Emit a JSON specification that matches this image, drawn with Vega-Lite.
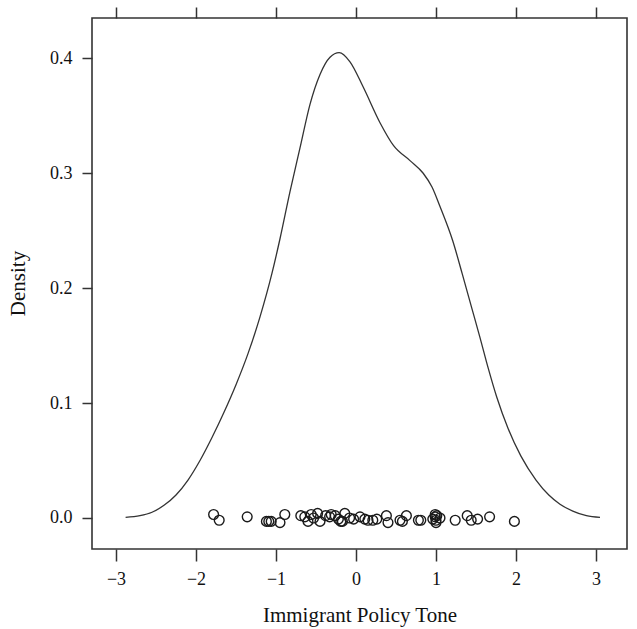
{
  "$schema": "https://vega.github.io/schema/vega-lite/v6.json",
  "width": 535,
  "height": 531,
  "autosize": "none",
  "padding": {"left": 92, "top": 18, "right": 10, "bottom": 80},
  "background": "white",
  "config": {
    "view": {"stroke": "#333333", "strokeWidth": 1.6},
    "font": "Liberation Serif",
    "axis": {"grid": false, "domain": false, "tickColor": "#333333", "tickWidth": 1.5, "labelColor": "#111111", "titleColor": "#111111", "labelFont": "Liberation Serif", "titleFont": "Liberation Serif", "titleFontWeight": "normal", "labelFontSize": 18, "titleFontSize": 21}
  },
  "datasets": {
    "curve": [
      {"tone": -2.88, "density": 0.0005},
      {"tone": -2.7, "density": 0.002},
      {"tone": -2.55, "density": 0.005},
      {"tone": -2.4, "density": 0.011},
      {"tone": -2.25, "density": 0.02},
      {"tone": -2.1, "density": 0.033},
      {"tone": -1.95, "density": 0.05},
      {"tone": -1.8, "density": 0.07},
      {"tone": -1.65, "density": 0.092},
      {"tone": -1.5, "density": 0.116},
      {"tone": -1.35, "density": 0.143},
      {"tone": -1.2, "density": 0.175},
      {"tone": -1.05, "density": 0.213},
      {"tone": -0.95, "density": 0.243},
      {"tone": -0.825, "density": 0.284},
      {"tone": -0.7, "density": 0.322},
      {"tone": -0.575, "density": 0.36},
      {"tone": -0.45, "density": 0.386},
      {"tone": -0.325, "density": 0.401},
      {"tone": -0.21, "density": 0.405},
      {"tone": -0.075, "density": 0.397},
      {"tone": 0.09, "density": 0.375},
      {"tone": 0.3, "density": 0.344},
      {"tone": 0.47, "density": 0.324},
      {"tone": 0.675, "density": 0.311},
      {"tone": 0.84, "density": 0.3},
      {"tone": 0.95, "density": 0.288},
      {"tone": 1.05, "density": 0.271},
      {"tone": 1.21, "density": 0.241},
      {"tone": 1.33, "density": 0.212},
      {"tone": 1.45, "density": 0.182},
      {"tone": 1.55, "density": 0.157},
      {"tone": 1.65, "density": 0.131},
      {"tone": 1.76, "density": 0.105},
      {"tone": 1.9, "density": 0.078},
      {"tone": 2.06, "density": 0.054},
      {"tone": 2.25, "density": 0.033},
      {"tone": 2.41, "density": 0.02},
      {"tone": 2.55, "density": 0.012},
      {"tone": 2.71, "density": 0.006},
      {"tone": 2.88, "density": 0.002},
      {"tone": 3.05, "density": 0.0005}
    ],
    "pts": [
      {"tone": -1.78, "jit": 0.003},
      {"tone": -1.71, "jit": -0.002},
      {"tone": -1.36, "jit": 0.001},
      {"tone": -1.12, "jit": -0.003},
      {"tone": -1.09, "jit": -0.003},
      {"tone": -1.06, "jit": -0.003},
      {"tone": -0.95, "jit": -0.004},
      {"tone": -0.89, "jit": 0.003},
      {"tone": -0.69, "jit": 0.002},
      {"tone": -0.64, "jit": 0.001},
      {"tone": -0.6, "jit": -0.003},
      {"tone": -0.56, "jit": 0.003},
      {"tone": -0.53, "jit": 0.0},
      {"tone": -0.48, "jit": 0.004},
      {"tone": -0.45, "jit": -0.003},
      {"tone": -0.38, "jit": 0.002},
      {"tone": -0.33, "jit": 0.001},
      {"tone": -0.31, "jit": 0.003},
      {"tone": -0.26, "jit": 0.002},
      {"tone": -0.22, "jit": -0.001},
      {"tone": -0.19, "jit": -0.003},
      {"tone": -0.17, "jit": -0.003},
      {"tone": -0.14, "jit": 0.004},
      {"tone": -0.08, "jit": 0.0},
      {"tone": -0.03, "jit": -0.001},
      {"tone": 0.05, "jit": 0.001},
      {"tone": 0.11, "jit": -0.001},
      {"tone": 0.15, "jit": -0.002},
      {"tone": 0.21, "jit": -0.002},
      {"tone": 0.26, "jit": -0.001},
      {"tone": 0.38, "jit": 0.002},
      {"tone": 0.4, "jit": -0.004},
      {"tone": 0.55, "jit": -0.002},
      {"tone": 0.58, "jit": -0.003},
      {"tone": 0.63, "jit": 0.002},
      {"tone": 0.78, "jit": -0.002},
      {"tone": 0.81, "jit": -0.002},
      {"tone": 0.96, "jit": -0.001},
      {"tone": 0.99, "jit": 0.003},
      {"tone": 0.99, "jit": 0.001},
      {"tone": 1.0, "jit": -0.002},
      {"tone": 1.0, "jit": -0.004},
      {"tone": 1.01, "jit": 0.002},
      {"tone": 1.05, "jit": 0.0},
      {"tone": 1.24, "jit": -0.002},
      {"tone": 1.39, "jit": 0.002},
      {"tone": 1.44, "jit": -0.002},
      {"tone": 1.52, "jit": -0.001},
      {"tone": 1.67, "jit": 0.001},
      {"tone": 1.98, "jit": -0.003}
    ]
  },
  "layer": [
    {
      "data": {"name": "curve"},
      "mark": {"type": "line", "color": "#333333", "strokeWidth": 1.3, "interpolate": "monotone"},
      "encoding": {
        "x": {"field": "tone", "type": "quantitative", "scale": {"domain": [-3.3, 3.3875], "nice": false, "zero": false},
          "axis": {"orient": "bottom", "values": [-3, -2, -1, 0, 1, 2, 3], "format": "d", "tickSize": 12, "labelPadding": 9, "title": "Immigrant Policy Tone", "titleY": 66, "titleBaseline": "middle", "labelFlush": false}},
        "y": {"field": "density", "type": "quantitative", "scale": {"domain": [-0.027, 0.4351], "nice": false, "zero": false},
          "axis": {"orient": "left", "values": [0, 0.1, 0.2, 0.3, 0.4], "format": ".1f", "tickSize": 10, "labelPadding": 10, "title": "Density", "titleX": -74, "titleY": 265, "titleAngle": -90, "titleBaseline": "middle", "labelFlush": false}}
      }
    },
    {
      "data": {"name": "pts"},
      "mark": {"type": "point", "shape": "circle", "filled": false, "color": "#1a1a1a", "strokeWidth": 1.4, "size": 95, "opacity": 1},
      "encoding": {
        "x": {"field": "tone", "type": "quantitative", "axis": null},
        "y": {"field": "jit", "type": "quantitative"}
      }
    },
    {
      "data": {"values": [{"tone": -3}, {"tone": 3}]},
      "mark": {"type": "point", "opacity": 0},
      "encoding": {
        "x": {"field": "tone", "type": "quantitative", "axis": {"orient": "top", "values": [-3, -2, -1, 0, 1, 2, 3], "labels": false, "tickSize": 11, "title": null}}
      }
    }
  ],
  "resolve": {"axis": {"x": "independent"}}
}
